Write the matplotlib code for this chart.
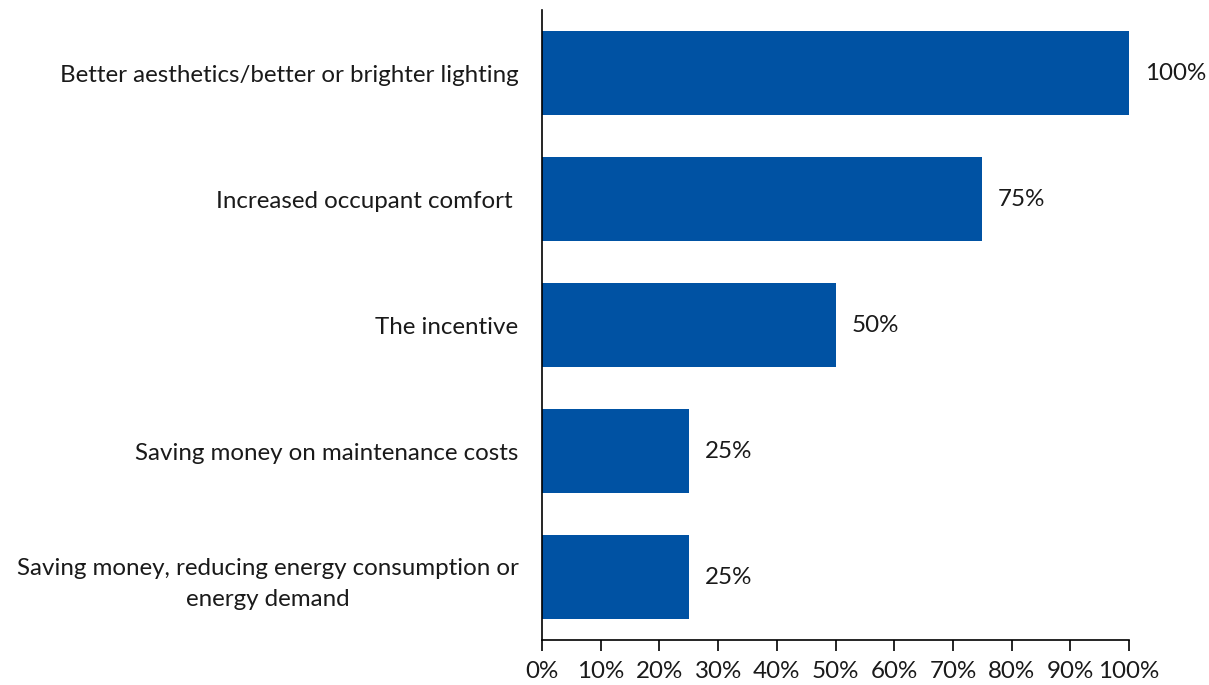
import matplotlib
matplotlib.use("Agg")
import matplotlib.pyplot as plt
from matplotlib.ticker import MultipleLocator, PercentFormatter

categories = [
    "Better aesthetics/better or brighter lighting",
    "Increased occupant comfort ",
    "The incentive",
    "Saving money on maintenance costs",
    "Saving money, reducing energy consumption or\nenergy demand",
]
values = [100, 75, 50, 25, 25]
value_labels = ["100%", "75%", "50%", "25%", "25%"]

bar_color = "#0052A3"
text_color = "#1a1a1a"
fs = 17.4

plt.rcParams["font.family"] = ["Lato", "DejaVu Sans"]

fig = plt.figure(figsize=(12.09, 6.85), dpi=100)
ax = fig.add_axes([542 / 1209, 1 - 640 / 685, (1129 - 542) / 1209, 630 / 685])

ypos = list(range(len(categories)))
ax.barh(ypos, values, height=0.667, color=bar_color)
for y, v, lab in zip(ypos, values, value_labels):
    ax.text(v + 2.7, y, lab, va="center", ha="left", fontsize=fs, color=text_color)

ax.set_ylim(len(categories) - 0.5, -0.5)
ax.set_yticks(ypos)
ax.set_yticklabels(categories, fontsize=fs, color=text_color,
                   multialignment="center", linespacing=1.6)
ax.tick_params(axis="y", length=0, pad=17)

ax.set_xlim(0, 100)
ax.xaxis.set_major_locator(MultipleLocator(10))
ax.xaxis.set_major_formatter(PercentFormatter(decimals=0))
ax.tick_params(axis="x", direction="out", length=8, width=1.2, color="#000000",
               labelsize=fs, labelcolor=text_color, pad=7)

for side in ["top", "right"]:
    ax.spines[side].set_visible(False)
for side in ["left", "bottom"]:
    ax.spines[side].set_linewidth(1.2)
    ax.spines[side].set_color("#000000")

fig.savefig("out.png", dpi=100)
